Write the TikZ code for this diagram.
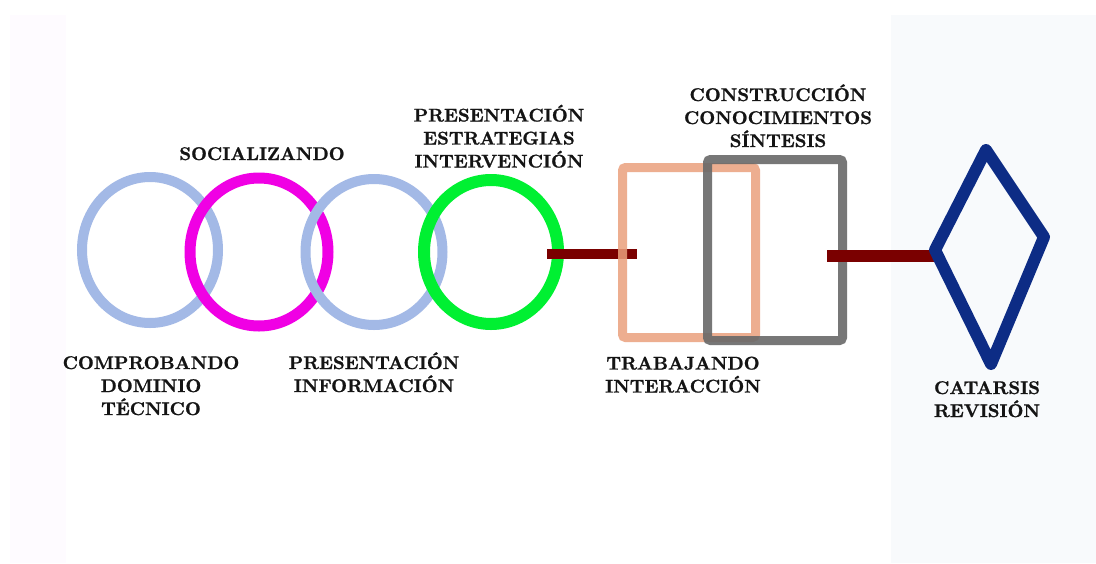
\documentclass[tikz,border=0pt]{standalone}
\usepackage{fontspec}
\newfontfamily\lblfont{lmroman10-bold.otf}[FakeBold=1.1]
\usetikzlibrary{shapes.geometric}
\definecolor{ringblue}{RGB}{163,185,230}
\definecolor{ringmag}{RGB}{240,0,228}
\definecolor{ringgreen}{RGB}{0,240,50}
\definecolor{linkred}{RGB}{122,0,0}
\definecolor{salmon}{RGB}{235,160,125}
\definecolor{boxgray}{RGB}{105,105,105}
\definecolor{navy}{RGB}{13,44,133}
\definecolor{leftbg}{RGB}{254,251,255}
\definecolor{rightbg}{RGB}{248,250,252}
\definecolor{ink}{RGB}{20,20,20}
\begin{document}
\begin{tikzpicture}[x=1pt,y=-1pt,
  ring/.style={ellipse,draw,inner sep=0pt,outer sep=0pt},
  rbox/.style={rectangle,draw,inner sep=0pt,outer sep=0pt,rounded corners=3pt,line width=9pt},
  link/.style={draw=linkred},
  lbl/.style={font=\lblfont\fontsize{18.4}{23}\selectfont,text=ink,align=center,anchor=base,inner sep=0pt}]
\useasboundingbox (0,0) rectangle (1096,563);
\fill[white] (0,0) rectangle (1096,563);
\fill[leftbg] (10,15) rectangle (66,563);
\fill[rightbg] (891,15) rectangle (1096,563);

% rings
\node[ring,draw=ringblue,line width=10pt,minimum width=136pt,minimum height=146pt] (c1) at (150,250) {};
\node[ring,draw=ringmag,line width=11pt,minimum width=138pt,minimum height=148pt] (c2) at (259,252) {};
\node[ring,draw=ringblue,line width=10pt,minimum width=137pt,minimum height=146pt] (c3) at (374,252) {};
\node[ring,draw=ringgreen,line width=12pt,minimum width=134pt,minimum height=144pt] (c4) at (491,252) {};

% first link
\coordinate (l1a) at (547,254);
\coordinate (l1b) at (637,254);
\draw[link,line width=10pt] (l1a) -- (l1b);

% boxes
\node[rbox,draw=salmon,draw opacity=0.85,minimum width=133pt,minimum height=170pt] (work) at (689,252.5) {};
\node[rbox,draw=boxgray,draw opacity=0.9,minimum width=135pt,minimum height=181pt] (build) at (775,250) {};

% second link
\coordinate (l2a) at (827,256);
\draw[link,line width=12pt] (l2a) -- (935,256);

% diamond
\coordinate (dt) at (986,150);
\coordinate (dr) at (1044,237);
\coordinate (db) at (991,364);
\coordinate (dl) at (935,250);
\draw[navy,line width=12pt,line join=round] (dt) -- (dr) -- (db) -- (dl) -- cycle;

% labels (anchor = baseline of last line)
\node[lbl] (tsoc) at (262,160) {SOCIALIZANDO};
\node[lbl] (tpre) at (499,167.5) {PRESENTACIÓN\\ESTRATEGIAS\\INTERVENCIÓN};
\node[lbl] (tcon) at (778,147) {CONSTRUCCIÓN\\CONOCIMIENTOS\\SÍNTESIS};
\node[lbl] (tcom) at (151,415) {COMPROBANDO\\DOMINIO\\TÉCNICO};
\node[lbl] (tinf) at (374,392) {PRESENTACIÓN\\INFORMACIÓN};
\node[lbl] (ttra) at (683,392.5) {TRABAJANDO\\INTERACCIÓN};
\node[lbl] (tcat) at (987,417) {CATARSIS\\REVISIÓN};
\end{tikzpicture}
\end{document}
